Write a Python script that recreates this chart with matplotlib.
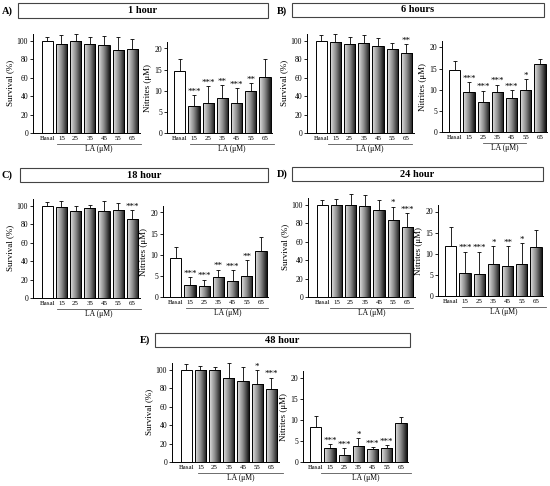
import matplotlib
matplotlib.use('Agg')
import matplotlib.pyplot as plt
import numpy as np
from matplotlib.patches import Rectangle
from matplotlib.colors import LinearSegmentedColormap
import matplotlib.transforms as mtransforms

plt.rcParams['font.family'] = ['Liberation Serif', 'DejaVu Serif']

# ---------------- data ----------------
categories = ['Basal', '15', '25', '35', '45', '55', '65']
panel_labels = ['A)', 'B)', 'C)', 'D)', 'E)']
panel_titles = ['1 hour', '6 hours', '18 hour', '24 hour', '48 hour']

surv_A = [100, 96.4, 100.5, 96.4, 95.3, 90, 91]
surv_A_err = [4.7, 10.1, 7.5, 8.3, 10.2, 14.4, 11.5]
surv_A_sig = ['', '', '', '', '', '', '']
nitr_A = [14.7, 6.3, 7.1, 8.3, 7.1, 10.0, 13.3]
nitr_A_err = [2.9, 2.7, 4.0, 3.1, 3.5, 1.8, 4.3]
nitr_A_sig = ['', '***', '***', '**', '***', '**', '']

surv_B = [100, 99, 97, 98, 94.6, 91, 86.7]
surv_B_err = [6, 9, 7, 8, 8.4, 7, 9.7]
surv_B_sig = ['', '', '', '', '', '', '**']
nitr_B = [14.7, 9.4, 7.1, 9.4, 8.0, 10.0, 16.0]
nitr_B_err = [2.1, 2.4, 2.7, 1.8, 2.0, 2.5, 1.2]
nitr_B_sig = ['', '***', '***', '***', '***', '*', '']

surv_C = [100, 98.6, 94.6, 98.2, 94.2, 95.7, 86.3]
surv_C_err = [4, 7.2, 5.4, 2.5, 11.2, 7.2, 9.4]
surv_C_sig = ['', '', '', '', '', '', '***']
nitr_C = [9.3, 2.9, 2.5, 4.8, 3.7, 5.0, 10.9]
nitr_C_err = [2.6, 1.9, 1.6, 1.7, 2.6, 3.7, 3.4]
nitr_C_sig = ['', '***', '***', '**', '***', '**', '']

surv_D = [100, 99.6, 99.6, 98.6, 95, 83.8, 76.6]
surv_D_err = [5, 7.4, 12.4, 12.2, 10.8, 14.4, 14.4]
surv_D_sig = ['', '', '', '', '', '*', '***']
nitr_D = [11.75, 5.5, 5.3, 7.6, 7.2, 7.6, 11.5]
nitr_D_err = [4.55, 5.0, 5.2, 4.3, 4.7, 4.9, 4.2]
nitr_D_sig = ['', '***', '***', '*', '**', '*', '']

surv_E = [100, 100, 99.6, 91.7, 88.4, 85.2, 79.4]
surv_E_err = [6.5, 4.7, 4, 16.3, 14.8, 14.8, 12.3]
surv_E_sig = ['', '', '', '', '', '*', '***']
nitr_E = [8.2, 3.2, 1.7, 3.9, 3.0, 3.4, 9.2]
nitr_E_err = [2.6, 1.0, 1.5, 1.7, 0.6, 0.6, 1.4]
nitr_E_sig = ['', '***', '***', '*', '***', '***', '']

surv_ticks = [0, 20, 40, 60, 80, 100]
nitr_ticks = [0, 5, 10, 15, 20]

# ---------------- layout ----------------
W, H = 550, 486
fig = plt.figure(figsize=(W / 100, H / 100), dpi=100)
fig.patch.set_facecolor('white')

grad_cmap = LinearSegmentedColormap.from_list('g', ['#e4e4e4', '#8a8a8a', '#151515'])
grad = np.linspace(0, 1, 64).reshape(1, -1)

PX_UNIT = 14.2
SURV_XLIM = (-1.0, 6.5)
NITR_XLIM = (-0.9, 6.5)
SURV_YMAX, SURV_PX = 108, 0.92
NITR_YMAX, NITR_PX = 21.5, 4.225


def add_ax(left, bottom, xlim, ymax, pxu):
    w = (xlim[1] - xlim[0]) * PX_UNIT
    h = ymax * pxu
    return fig.add_axes([left / W, 1 - bottom / H, w / W, h / H])


def draw_panel(ax, vals, errs, sigs, xlim, ymax, ticks, ylabel, la_span):
    x = np.arange(len(categories))
    bars = ax.bar(x, vals, width=0.78, facecolor='white', edgecolor='black',
                  linewidth=0.7, zorder=2)
    for i, b in enumerate(bars):
        if i == 0:
            continue
        bx, by = b.get_x(), b.get_y()
        im = ax.imshow(grad, cmap=grad_cmap, aspect='auto', zorder=2.5,
                       extent=[bx, bx + b.get_width(), by, by + b.get_height()],
                       interpolation='bilinear')
        im.set_clip_path(b)
        b.set_zorder(3)
        b.set_facecolor('none')
    eb = ax.errorbar(x, vals, yerr=[np.zeros(len(vals)), errs], fmt='none',
                     ecolor='black', elinewidth=0.6, capsize=1.6, capthick=0.6,
                     zorder=1.5, clip_on=False)
    for cl in eb[1]:
        cl.set_clip_on(False)
    eb[1][0].set_visible(False)
    for line in eb[2]:
        line.set_clip_on(False)
    for xi, v, e, s in zip(x, vals, errs, sigs):
        if s:
            ax.annotate(s, (xi, v + e), xytext=(0, -0.5), textcoords='offset points',
                        ha='center', va='bottom', fontsize=6.5, annotation_clip=False)
    ax.set_xlim(*xlim)
    ax.set_ylim(0, ymax)
    ax.set_yticks(ticks)
    ax.set_xticks(x)
    ax.set_xticklabels(categories, fontsize=5)
    ax.tick_params(axis='x', length=0, pad=2)
    ax.tick_params(axis='y', labelsize=5.5, length=2, width=0.6, pad=1.5)
    for sp in ['top', 'right']:
        ax.spines[sp].set_visible(False)
    for sp in ['left', 'bottom']:
        ax.spines[sp].set_linewidth(0.7)
    ax.set_ylabel(ylabel, fontsize=6.5, labelpad=2)
    trans = mtransforms.blended_transform_factory(ax.transData, ax.transAxes)
    off_line = mtransforms.offset_copy(trans, fig=fig, x=0, y=-11 * 0.72, units='points')
    off_text = mtransforms.offset_copy(trans, fig=fig, x=0, y=-16 * 0.72, units='points')
    ax.plot(la_span, [0, 0], transform=off_line, color='#555555', lw=0.6,
            clip_on=False)
    ax.text(sum(la_span) / 2, 0, 'LA (\u03bcM)', transform=off_text, ha='center',
            va='center', fontsize=5.5)


def title_box(x0, x1, y0, y1, title, label, lx, ly):
    fig.add_artist(Rectangle((x0 / W, 1 - y1 / H), (x1 - x0) / W, (y1 - y0) / H,
                             transform=fig.transFigure, facecolor='white',
                             edgecolor='#444444', linewidth=0.8))
    fig.text((x0 + x1) / 2 / W, 1 - (y0 + y1) / 2 / H, title, ha='center',
             va='center', fontsize=7.5, fontweight='bold')
    fig.text(lx / W, 1 - ly / H, label, ha='left', va='center', fontsize=7.5,
             fontweight='bold')


panels = [
    # title box, label pos, surv left/bottom, nitr left/bottom, data, la spans
    dict(box=(18, 268, 3, 18), lab=(2, 11), s=(33, 133), n=(167, 133),
         sv=(surv_A, surv_A_err, surv_A_sig), nv=(nitr_A, nitr_A_err, nitr_A_sig),
         sla=(0.7, 6.6), nla=(0.7, 6.6)),
    dict(box=(292, 544, 3, 17), lab=(277, 11), s=(307, 133), n=(442, 132),
         sv=(surv_B, surv_B_err, surv_B_sig), nv=(nitr_B, nitr_B_err, nitr_B_sig),
         sla=(0.45, 6.4), nla=(2.0, 5.0)),
    dict(box=(20, 268, 168, 182), lab=(2, 175), s=(33, 298), n=(163, 297),
         sv=(surv_C, surv_C_err, surv_C_sig), nv=(nitr_C, nitr_C_err, nitr_C_sig),
         sla=(0.7, 6.6), nla=(0.75, 6.5)),
    dict(box=(292, 543, 167, 181), lab=(277, 174), s=(308, 297), n=(438, 296),
         sv=(surv_D, surv_D_err, surv_D_sig), nv=(nitr_D, nitr_D_err, nitr_D_sig),
         sla=(0.55, 6.4), nla=(0.8, 6.7)),
    dict(box=(155, 410, 333, 347), lab=(140, 340), s=(172, 462), n=(303, 462),
         sv=(surv_E, surv_E_err, surv_E_sig), nv=(nitr_E, nitr_E_err, nitr_E_sig),
         sla=(0.85, 6.8), nla=(0.4, 6.7)),
]

for p, lab, tit in zip(panels, panel_labels, panel_titles):
    bx0, bx1, by0, by1 = p['box']
    title_box(bx0, bx1, by0, by1, tit, lab, *p['lab'])
    axs = add_ax(p['s'][0], p['s'][1], SURV_XLIM, SURV_YMAX, SURV_PX)
    draw_panel(axs, *p['sv'], SURV_XLIM, SURV_YMAX, surv_ticks, 'Survival (%)', p['sla'])
    axn = add_ax(p['n'][0], p['n'][1], NITR_XLIM, NITR_YMAX, NITR_PX)
    draw_panel(axn, *p['nv'], NITR_XLIM, NITR_YMAX, nitr_ticks, 'Nitrites (\u03bcM)', p['nla'])

fig.savefig('out.png', dpi=100, facecolor='white')
